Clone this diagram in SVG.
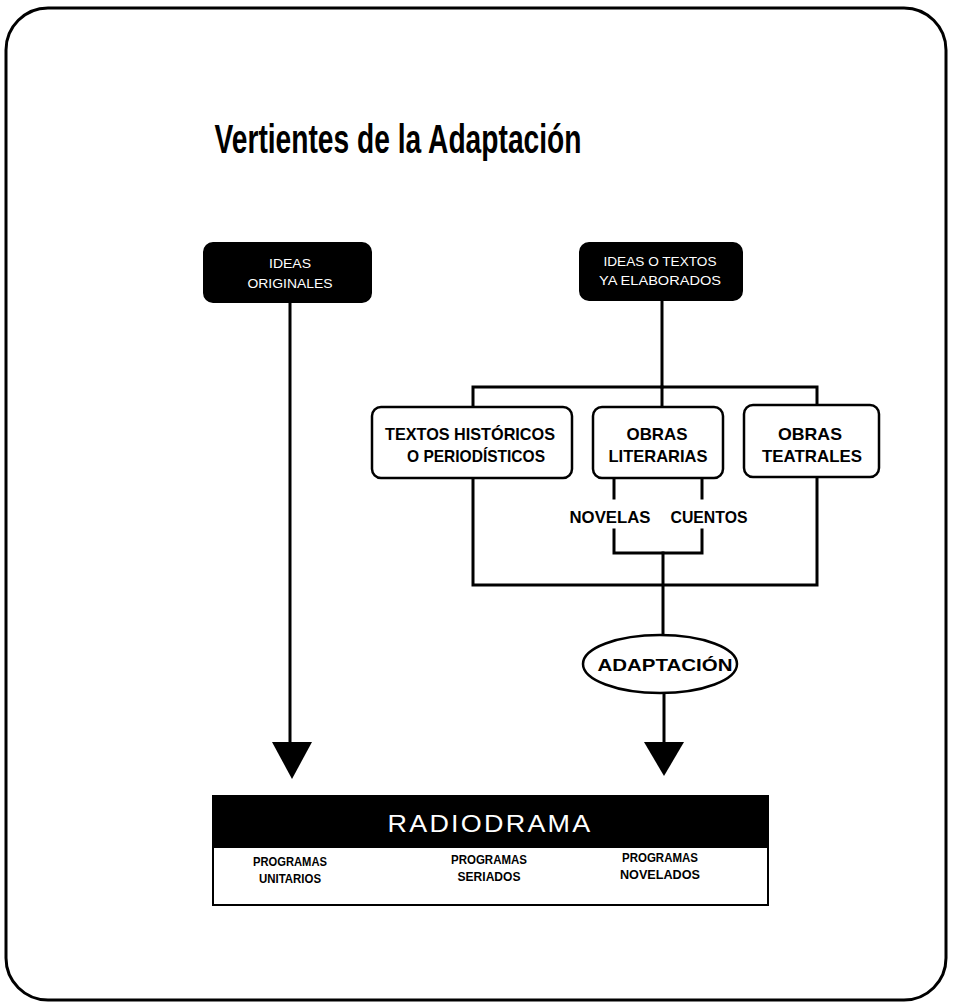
<svg xmlns="http://www.w3.org/2000/svg" width="953" height="1003" viewBox="0 0 953 1003">
<style>
.ln{fill:none;stroke:#000;stroke-width:3;stroke-linecap:square}
.box{fill:#fff;stroke:#000;stroke-width:2.5}
.dark{fill:#000;stroke:#000;stroke-width:2}
.lbl{font-family:"Liberation Sans",Arial,sans-serif;font-weight:bold;font-size:17px;fill:#000;text-anchor:middle}
.wl{font-family:"Liberation Sans",Arial,sans-serif;font-size:13px;fill:#fff;text-anchor:middle}
.sm{font-family:"Liberation Sans",Arial,sans-serif;font-weight:bold;font-size:12px;fill:#000;text-anchor:middle}
</style>
<rect width="953" height="1003" fill="#fff"/>
<rect id="frame" x="6" y="8" width="940" height="992" rx="42" ry="42" fill="none" stroke="#000" stroke-width="3"/>
<g id="title">
<text x="398" y="153" font-family="Liberation Sans, Arial, sans-serif" font-weight="bold" font-size="40" text-anchor="middle" textLength="367" lengthAdjust="spacingAndGlyphs">Vertientes de la Adaptación</text>
</g>
<g id="connectors">
<line class="ln" x1="290" y1="303" x2="290" y2="745"/>
<line class="ln" x1="662" y1="300" x2="662" y2="387"/>
<polyline class="ln" points="473,406 473,387 817,387 817,405"/>
<line class="ln" x1="662" y1="387" x2="662" y2="407"/>
<polyline class="ln" points="473,478 473,585 817,585 817,477"/>
<line class="ln" x1="614" y1="478" x2="614" y2="498"/>
<line class="ln" x1="702" y1="478" x2="702" y2="498"/>
<polyline class="ln" points="614,530 614,553 702,553 702,530"/>
<line class="ln" x1="663" y1="553" x2="663" y2="636"/>
<line class="ln" x1="664" y1="693" x2="664" y2="745"/>
<polygon points="272,742 312,742 292,779" fill="#000"/>
<polygon points="644,742 684,742 664,776" fill="#000"/>
</g>
<g id="ideas-originales">
<rect class="dark" x="204" y="243" width="167" height="59" rx="9"/>
<text class="wl" x="290" y="268" textLength="42" lengthAdjust="spacingAndGlyphs">IDEAS</text>
<text class="wl" x="290" y="288" textLength="85" lengthAdjust="spacingAndGlyphs">ORIGINALES</text>
</g>
<g id="ideas-textos">
<rect class="dark" x="580" y="243" width="162" height="57" rx="9"/>
<text class="wl" x="660" y="266" textLength="113" lengthAdjust="spacingAndGlyphs">IDEAS O TEXTOS</text>
<text class="wl" x="660" y="285" textLength="122" lengthAdjust="spacingAndGlyphs">YA ELABORADOS</text>
</g>
<g id="textos-historicos">
<rect class="box" x="372" y="407" width="200" height="71" rx="9"/>
<text class="lbl" x="470" y="440" textLength="170" lengthAdjust="spacingAndGlyphs">TEXTOS HISTÓRICOS</text>
<text class="lbl" x="476" y="462" textLength="138" lengthAdjust="spacingAndGlyphs">O PERIODÍSTICOS</text>
</g>
<g id="obras-literarias">
<rect class="box" x="593" y="407" width="130" height="71" rx="9"/>
<text class="lbl" x="657" y="440" textLength="61" lengthAdjust="spacingAndGlyphs">OBRAS</text>
<text class="lbl" x="658" y="462" textLength="99" lengthAdjust="spacingAndGlyphs">LITERARIAS</text>
</g>
<g id="obras-teatrales">
<rect class="box" x="744" y="405" width="135" height="72" rx="9"/>
<text class="lbl" x="810" y="440" textLength="64" lengthAdjust="spacingAndGlyphs">OBRAS</text>
<text class="lbl" x="812" y="462" textLength="100" lengthAdjust="spacingAndGlyphs">TEATRALES</text>
</g>
<g id="novelas">
<text class="lbl" x="610" y="523" textLength="81" lengthAdjust="spacingAndGlyphs">NOVELAS</text>
</g>
<g id="cuentos">
<text class="lbl" x="709" y="523" textLength="77" lengthAdjust="spacingAndGlyphs">CUENTOS</text>
</g>
<g id="adaptacion">
<ellipse cx="660" cy="664" rx="77" ry="29" fill="#fff" stroke="#000" stroke-width="2.5"/>
<text class="lbl" x="665" y="671" font-size="18" textLength="135" lengthAdjust="spacingAndGlyphs">ADAPTACIÓN</text>
</g>
<g id="radiodrama">
<rect x="212" y="795" width="557" height="52" fill="#000"/>
<rect x="213" y="847" width="555" height="58" fill="#fff" stroke="#000" stroke-width="2"/>
<text x="490" y="832" font-family="Liberation Sans, Arial, sans-serif" font-size="24" fill="#fff" text-anchor="middle" letter-spacing="2" textLength="205" lengthAdjust="spacingAndGlyphs">RADIODRAMA</text>
<text class="sm" x="290" y="866" textLength="74" lengthAdjust="spacingAndGlyphs">PROGRAMAS</text>
<text class="sm" x="290" y="883" textLength="62" lengthAdjust="spacingAndGlyphs">UNITARIOS</text>
<text class="sm" x="489" y="864" textLength="76" lengthAdjust="spacingAndGlyphs">PROGRAMAS</text>
<text class="sm" x="489" y="881" textLength="63" lengthAdjust="spacingAndGlyphs">SERIADOS</text>
<text class="sm" x="660" y="862" textLength="76" lengthAdjust="spacingAndGlyphs">PROGRAMAS</text>
<text class="sm" x="660" y="879" textLength="80" lengthAdjust="spacingAndGlyphs">NOVELADOS</text>
</g>
</svg>
